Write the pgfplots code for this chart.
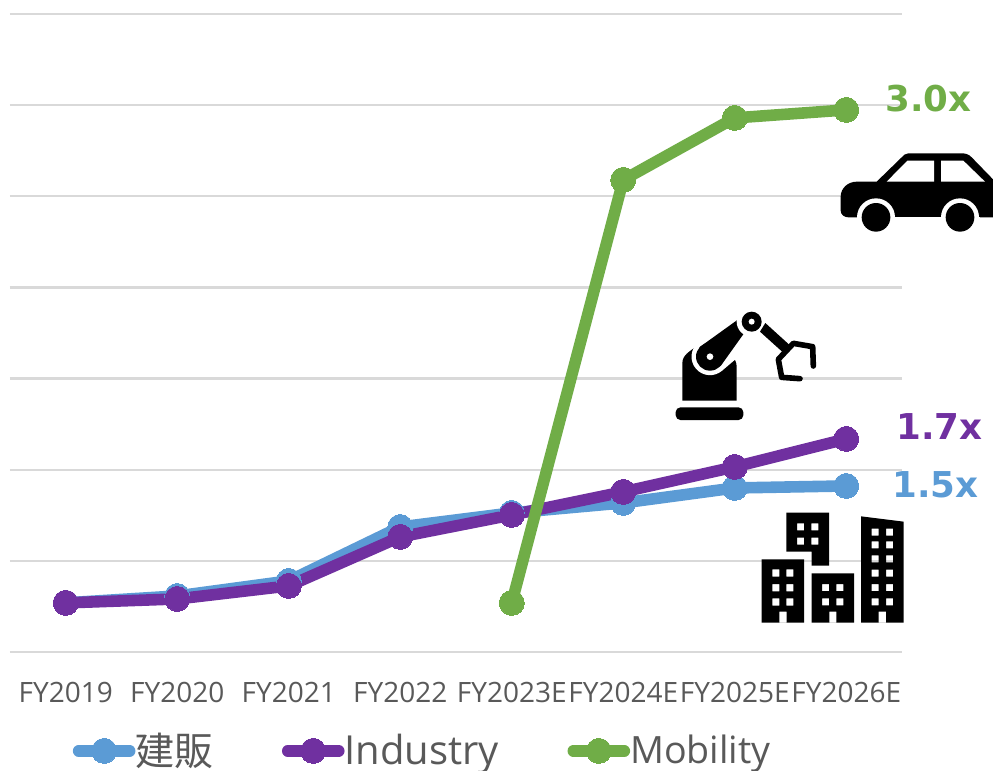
\documentclass[border=0pt]{standalone}
\usepackage{fontspec}
\setmainfont{Open Sans}
\newfontfamily\cjk{Noto Sans CJK JP}
\newfontfamily\boldlabel{DejaVu Sans Bold}
\usepackage{pgfplots}
\pgfplotsset{compat=1.18}
\definecolor{kenpan}{HTML}{5B9BD5}
\definecolor{industry}{HTML}{7030A0}
\definecolor{mobility}{HTML}{70AD47}
\definecolor{gridgray}{HTML}{D9D9D9}
\definecolor{textgray}{HTML}{595959}
\pgfplotsset{
  series/.style={color=#1, line width=5.8pt, line cap=round, line join=round, mark=*, mark size=6.25pt,
    mark options={solid, line width=0pt, fill=#1, draw=#1}},
}
\begin{document}
\begin{tikzpicture}
\path[use as bounding box] (0,0) rectangle (496.5pt,-385.5pt);
\begin{axis}[
  at={(5pt,-326pt)}, anchor=south west,
  scale only axis, width=446pt, height=319pt,
  xmin=-0.5, xmax=7.5, ymin=0, ymax=7,
  clip=false,
  axis line style={draw=none},
  xtick={0,...,7},
  xticklabels={FY2019,FY2020,FY2021,FY2022,FY2023E,FY2024E,FY2025E,FY2026E},
  xticklabel style={anchor=base, yshift=-25pt, text=textgray, font=\fontsize{14}{16}\selectfont},
  ytick={0,...,7}, yticklabels={},
  tick style={draw=none},
  ymajorgrids,
  grid style={gridgray, line width=1.1pt},
  legend columns=3,
  legend style={at={(0.4638,-0.155)}, anchor=center, draw=none, fill=none, inner sep=0pt,
    nodes={inner ysep=0pt},
    font=\fontsize{19.5}{22}\selectfont, text=textgray,
    /tikz/every even column/.append style={column sep=32.25pt},
    /tikz/every odd column/.append style={column sep=-2pt}},
  legend image code/.code={
    \draw[mark repeat=2, mark phase=2, #1] plot coordinates {(0pt,0pt) (12.75pt,0pt) (25.5pt,0pt)};
  },
]
\addplot[series=kenpan] coordinates {(0,0.539) (1,0.615) (2,0.780) (3,1.372) (4,1.526) (5,1.636) (6,1.800) (7,1.822)};
\addplot[series=industry] coordinates {(0,0.539) (1,0.582) (2,0.725) (3,1.263) (4,1.504) (5,1.757) (6,2.031) (7,2.338)};
\addplot[series=mobility] coordinates {(4,0.539) (5,5.180) (6,5.860) (7,5.948)};
\legend{{\cjk 建販},{\fontsize{20}{22}\selectfont Industry},{\fontsize{18.8}{22}\selectfont Mobility}}
\end{axis}
% multiple labels, pixel coordinates from here on
\begin{scope}[x=0.5pt, y=-0.5pt]
\node[anchor=west, inner sep=0pt, text=mobility, font=\boldlabel\fontsize{17.8}{20}\selectfont] at (885,99) {3.0x};
\node[anchor=west, inner sep=0pt, text=industry, font=\boldlabel\fontsize{17.8}{20}\selectfont] at (896,427) {1.7x};
\node[anchor=west, inner sep=0pt, text=kenpan, font=\boldlabel\fontsize{17.8}{20}\selectfont] at (892,485) {1.5x};
\end{scope}
% car and robot, coordinates of a 3x crop at (660,140)
\begin{scope}[shift={(330pt,-70pt)}, x=0.16667pt, y=-0.16667pt]
\fill[black] (565,232) to[out=180,in=-90] (542,212) -- (542,170) to[out=90,in=180] (590,125) -- (650,125) -- (725,52)
  to[out=45,in=180] (745,40) -- (905,40) to[out=0,in=135] (935,52) -- (999,118) -- (999,232) -- cycle;
\fill[white] (680,125) -- (742,62) -- (822,62) -- (822,125) -- cycle;
\fill[white] (843,62) -- (910,62) -- (975,125) -- (843,125) -- cycle;
\fill[white] (648,232) circle (57);
\fill[white] (900,232) circle (57);
\fill[white] (590,232) rectangle (960,290);
\fill[black] (648,232) circle (43);
\fill[black] (900,232) circle (43);
% base and body
\fill[black, rounded corners=2.4pt] (47,840) -- (47,802) -- (250,802) -- (250,840) -- cycle;
\fill[black] (67,782) -- (67,670) to[out=90,in=220] (110,618) -- (218,648) to[out=-60,in=90] (230,680) -- (230,782) -- cycle;
\draw[white, line width=18.5pt, line cap=round] (150,650) -- (250,565);
\fill[black] (150,650) circle (42);
\fill[black] (118,622) -- (232,540) -- (252,580) -- (182,678) -- cycle;
\fill[white] (150,650) circle (10);
\fill[white] (275,545) circle (45);
\fill[black] (275,545) circle (30);
\fill[white] (275,545) circle (9);
% forearm and gripper
\fill[black] (316,549) -- (392,618) -- (372,640) -- (300,575) -- cycle;
\draw[black, line width=2.8pt, line cap=round, line join=round] (460,678) -- (458,620) -- (400,610) -- (355,658) -- (365,712) -- (420,716);
\end{scope}
% buildings, coordinates of a 3x crop at (740,400)
\begin{scope}[shift={(370pt,-200pt)}, x=0.16667pt, y=-0.16667pt]
\fill[black, even odd rule] (65,478) rectangle (192,668) (118,635) rectangle (140,668)
  foreach \yy in {508,552,595} { (97,\yy) rectangle +(21,22) (139,\yy) rectangle +(21,22) };
\fill[black, even odd rule] (139,338) -- (267,338) -- (267,497) -- (215,497) -- (215,455) -- (139,455) -- cycle
  foreach \yy in {370,413} { (171,\yy) rectangle +(21,21) (214,\yy) rectangle +(21,21) };
\fill[black, even odd rule] (215,520) rectangle (342,668) (268,635) rectangle (289,668)
  foreach \yy in {552,595} { (246,\yy) rectangle +(21,21) (289,\yy) rectangle +(21,21) };
\fill[black, even odd rule] (363,349) -- (491,365) -- (491,668) -- (363,668) -- cycle (416,635) rectangle (438,668)
  foreach \yy in {386,424,466,509,552,595} { (395,\yy) rectangle +(21,21) (438,\yy) rectangle +(21,21) };
\end{scope}
\end{tikzpicture}
\end{document}
